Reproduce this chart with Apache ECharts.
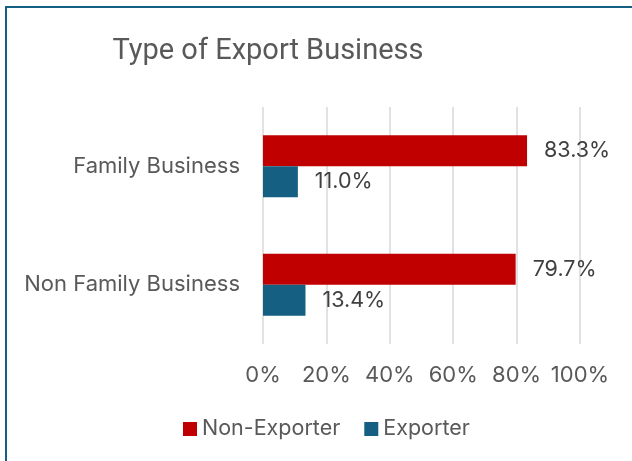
<!DOCTYPE html>
<html>
<head>
<meta charset="utf-8">
<script src="https://cdn.jsdelivr.net/npm/echarts@6/dist/echarts.min.js"></script>
<style>
  html, body { margin: 0; padding: 0; background: #fff; }
  #chart { width: 632px; height: 461px; }
</style>
</head>
<body>
<div id="chart"></div>
<script>
const categories = ['Family Business', 'Non Family Business'];
const nonExporter = [83.3, 79.7];
const exporter = [11.0, 13.4];
const seriesNames = ['Non-Exporter', 'Exporter'];
const tickValues = [0, 20, 40, 60, 80, 100];

const FONT = 'Inter, Roboto, sans-serif';
const TITLE_FONT = 'Roboto, sans-serif';
const chart = echarts.init(document.getElementById('chart'));

const labelStyle = {
  show: true,
  position: 'right',
  distance: 17,
  color: '#404040',
  fontSize: 21.5,
  fontFamily: FONT,
  formatter: p => p.value.toFixed(1) + '%'
};

chart.setOption({
  backgroundColor: '#ffffff',
  animation: false,
  title: {
    text: 'Type of Export Business',
    left: 263,
    top: 32,
    textAlign: 'center',
    textStyle: { color: '#595959', fontSize: 29, fontWeight: 'normal', fontFamily: TITLE_FONT }
  },
  graphic: [{
    type: 'rect',
    shape: { x: 6, y: 7, width: 700, height: 600 },
    style: { fill: 'none', stroke: '#156082', lineWidth: 2 },
    silent: true
  }],
  legend: {
    data: seriesNames,
    left: 178,
    top: 413,
    itemWidth: 14,
    itemHeight: 14,
    itemGap: 24,
    icon: 'rect',
    textStyle: { color: '#595959', fontSize: 21.5, fontFamily: FONT }
  },
  grid: { left: 263, right: 52, top: 107, bottom: 117, containLabel: false },
  xAxis: {
    type: 'value',
    min: 0,
    max: 100,
    interval: 20,
    axisLine: { show: false },
    axisTick: { show: false },
    splitLine: { lineStyle: { color: '#d9d9d9', width: 1.5 } },
    axisLabel: {
      margin: 20,
      color: '#595959',
      fontSize: 22,
      fontFamily: FONT,
      formatter: v => tickValues.includes(v) ? v + '%' : ''
    }
  },
  yAxis: {
    type: 'category',
    inverse: true,
    data: categories,
    axisLine: { show: false },
    axisTick: { show: false },
    axisLabel: { margin: 23, color: '#595959', fontSize: 22, fontFamily: FONT }
  },
  series: [
    {
      name: seriesNames[0],
      type: 'bar',
      data: nonExporter,
      barWidth: 31,
      barGap: '0%',
      itemStyle: { color: '#c00000' },
      label: labelStyle
    },
    {
      name: seriesNames[1],
      type: 'bar',
      data: exporter,
      barWidth: 31,
      barGap: '0%',
      itemStyle: { color: '#156082' },
      label: labelStyle
    }
  ]
});
</script>
</body>
</html>
